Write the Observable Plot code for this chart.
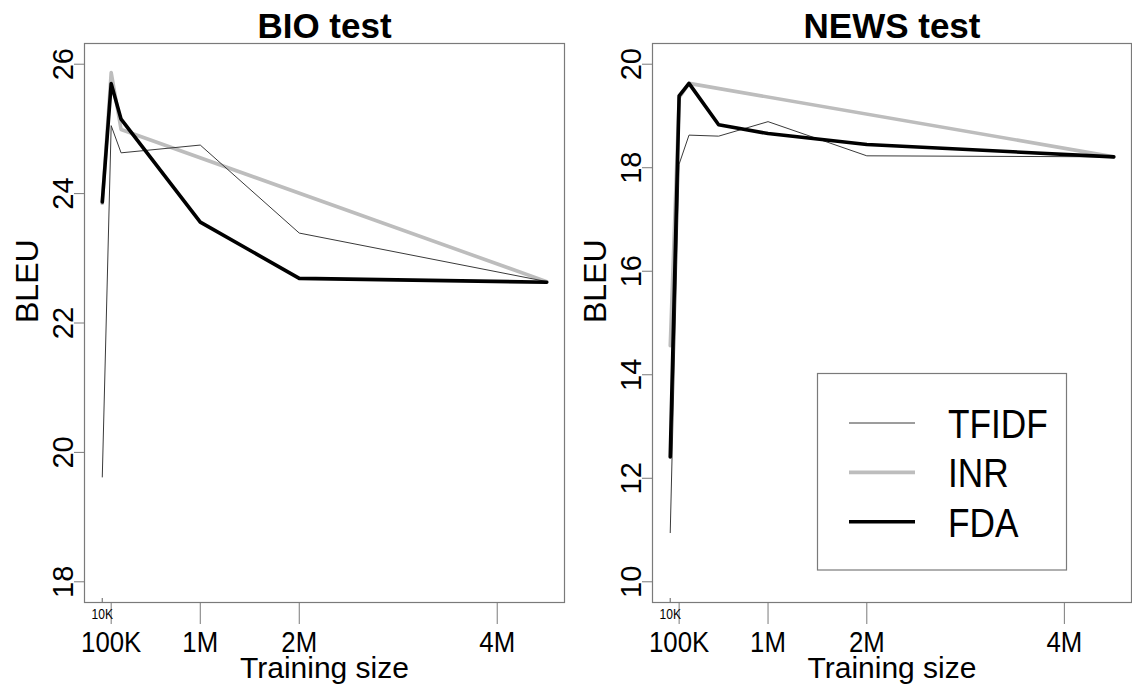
<!DOCTYPE html>
<html><head><meta charset="utf-8">
<script src="https://cdn.jsdelivr.net/npm/d3@7"></script>
<script src="https://cdn.jsdelivr.net/npm/@observablehq/plot@0.6"></script>
<style>
body{margin:0;background:#fff;}
#wrap{position:relative;width:1132px;height:685px;overflow:hidden;background:#fff;}
.panel{position:absolute;top:0;}
#legend{position:absolute;left:0;top:0;pointer-events:none;}
</style></head><body><div id="wrap"></div>
<script>
// ---- data (training size in millions of sentences, BLEU) ----
const seriesNames = ["TFIDF", "INR", "FDA"];

const bioSizes   = [0.01, 0.1, 0.2, 1, 2, 4.5];
const bioTFIDF   = [19.62, 25.05, 24.63, 24.75, 23.39, 22.64];
const bioFDA     = [23.87, 25.70, 25.15, 23.56, 22.69, 22.63];
const bioINRSizes = [0.01, 0.1, 0.2, 4.5];
const bioINR     = [23.85, 25.87, 24.99, 22.64];

const newsSizes  = [0.01, 0.1, 0.2, 0.5, 1, 2, 4.5];
const newsTFIDF  = [10.95, 18.07, 18.63, 18.61, 18.89, 18.23, 18.21];
const newsFDA    = [12.41, 19.39, 19.63, 18.83, 18.66, 18.45, 18.21];
const newsINRSizes = [0.01, 0.1, 0.2, 4.5];
const newsINR    = [14.56, 19.35, 19.63, 18.21];

const xTickValues = [0.1, 1, 2, 4];
const xTickLabels = ["100K", "1M", "2M", "4M"];
const xMinorTick = [0.01];
const xMinorLabel = ["10K"];
const bioYTicks  = [18, 20, 22, 24, 26];
const newsYTicks = [10, 12, 14, 16, 18, 20];

// ---- styles ----
const styles = {
  TFIDF: {stroke: "#3a3a3a", strokeWidth: 1},
  INR:   {stroke: "#bdbdbd", strokeWidth: 3.6},
  FDA:   {stroke: "#000000", strokeWidth: 3.6}
};
const drawOrder = ["INR", "TFIDF", "FDA"];
const REG = "'Liberation Sans', Arial, sans-serif";
const AXIS_GRAY = "#7a7a7a";
const SQUEEZE = 0.86;   // horizontal text compression seen in the reference

function rowsFor(sizesMain, tfidf, fda, inrSizes, inr) {
  const rows = [];
  sizesMain.forEach((s, i) => rows.push({method: "TFIDF", size: s, bleu: tfidf[i]}));
  inrSizes.forEach((s, i) => rows.push({method: "INR", size: s, bleu: inr[i]}));
  sizesMain.forEach((s, i) => rows.push({method: "FDA", size: s, bleu: fda[i]}));
  return rows;
}
const bioRows = rowsFor(bioSizes, bioTFIDF, bioFDA, bioINRSizes, bioINR);
const newsRows = rowsFor(newsSizes, newsTFIDF, newsFDA, newsINRSizes, newsINR);

// R-style 4% padding of the data range
function padded(lo, hi) { const d = (hi - lo) * 0.04; return [lo - d, hi + d]; }
const xDomain = padded(d3.min(bioSizes), d3.max(bioSizes));

function squeeze(svg, selector, s) {
  svg.querySelectorAll(selector).forEach(t => {
    const tr = t.getAttribute("transform") || "";
    const x = +(t.getAttribute("x") || 0);
    t.setAttribute("transform", `${tr} translate(${x},0) scale(${s},1) translate(${-x},0)`);
  });
}

function panel(title, rows, yLim, yTicks, ml, mr) {
  const svg = Plot.plot({
    width: 566, height: 685,
    marginLeft: ml, marginRight: mr, marginTop: 43, marginBottom: 83,
    x: {domain: xDomain},
    y: {domain: padded(yLim[0], yLim[1])},
    style: {fontFamily: REG, background: "white", color: "black"},
    marks: [
      Plot.frame({stroke: AXIS_GRAY, strokeWidth: 1.2}),
      // y axis ticks
      Plot.axisY({ticks: yTicks, tickSize: 10, stroke: AXIS_GRAY, tickFormat: () => "", label: null}),
      // y tick labels (rotated, R style)
      Plot.text(yTicks, {y: d => d, text: d => String(d), frameAnchor: "left", dx: -12,
        rotate: -90, textAnchor: "middle", lineAnchor: "bottom", fontSize: 29}),
      // x axis major ticks
      Plot.axisX({ticks: xTickValues, tickSize: 22, tickPadding: 6, stroke: AXIS_GRAY,
        tickFormat: (d, i) => xTickLabels[i], fontSize: 30, label: null}),
      // x axis minor 10K tick (inward)
      Plot.ruleX(xMinorTick, {insetTop: 555, stroke: AXIS_GRAY, strokeWidth: 1.2}),
      Plot.axisX({ticks: xMinorTick, tickSize: 0, tickPadding: 7,
        tickFormat: (d, i) => xMinorLabel[i], fontSize: 14, label: null}),
      // series
      ...drawOrder.map(m => Plot.line(rows.filter(r => r.method === m), {
        x: "size", y: "bleu", stroke: styles[m].stroke, strokeWidth: styles[m].strokeWidth,
        strokeLinejoin: "round", strokeLinecap: "round"})),
      // titles
      Plot.text([title], {frameAnchor: "top", dy: -6, lineAnchor: "bottom",
        fontSize: 35, fontWeight: "bold"}),
      Plot.text(["Training size"], {frameAnchor: "bottom", dy: 75.5, lineAnchor: "bottom",
        fontSize: 30, ariaLabel: "narrow-text"}),
      Plot.text(["BLEU"], {frameAnchor: "left", dx: -46.5, rotate: -90, lineAnchor: "bottom",
        fontSize: 32})
    ]
  });
  squeeze(svg, 'g[aria-label="x-axis tick label"] text', SQUEEZE);
  squeeze(svg, 'g[aria-label="narrow-text"] text', 0.88);
  return svg;
}

const wrap = document.getElementById("wrap");
const left = panel("BIO test", bioRows, [18, 26], bioYTicks, 84, 2);
left.classList.add("panel"); left.style.left = "0px";
const right = panel("NEWS test", newsRows, [10, 20], newsYTicks, 86, 1);
right.classList.add("panel"); right.style.left = "566px";
wrap.appendChild(left); wrap.appendChild(right);

// legend (drawn in page coordinates, inside the NEWS panel)
const leg = d3.select(wrap).append("svg").attr("id", "legend")
  .attr("width", 1132).attr("height", 685);
leg.append("rect").attr("x", 817.5).attr("y", 373.5).attr("width", 249).attr("height", 196.5)
  .attr("fill", "none").attr("stroke", AXIS_GRAY).attr("stroke-width", 1.2);
seriesNames.forEach((name, i) => {
  const cy = 423 + i * 49.4;
  leg.append("line").attr("x1", 849).attr("x2", 915).attr("y1", cy).attr("y2", cy)
    .attr("stroke", styles[name].stroke).attr("stroke-width", styles[name].strokeWidth);
  leg.append("text").attr("transform", `translate(948,${cy + 15}) scale(${SQUEEZE},1)`)
    .text(name).attr("font-family", REG).attr("font-size", 41).attr("fill", "black");
});
</script></body></html>
